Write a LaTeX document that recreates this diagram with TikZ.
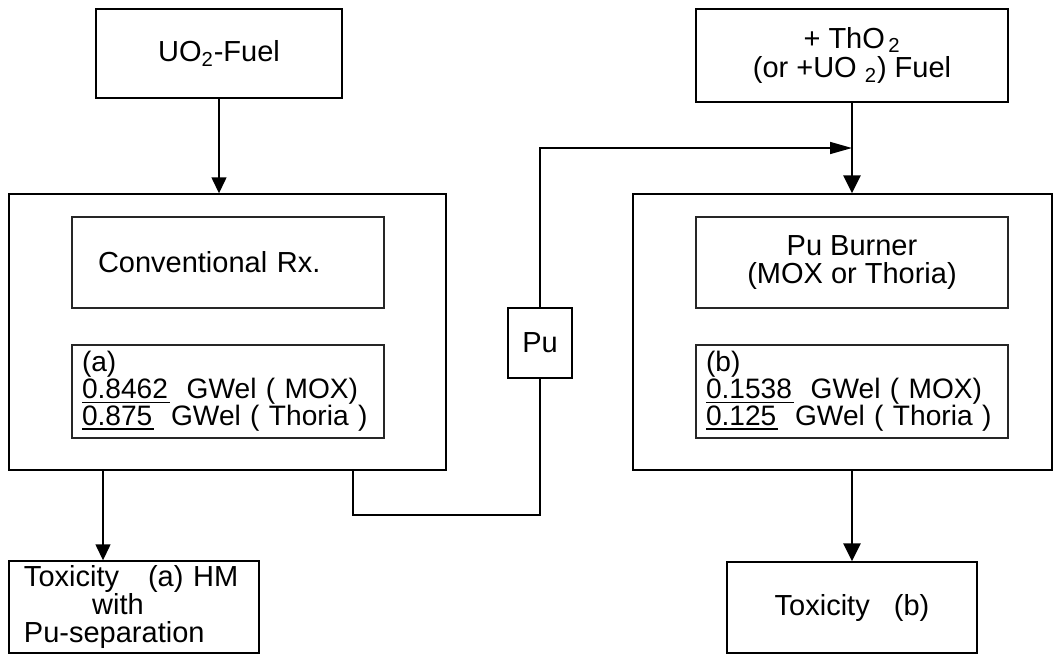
\documentclass[tikz,border=0pt]{standalone}
\usepackage{fontspec}
\setmainfont{Liberation Sans}
\usetikzlibrary{arrows.meta}
\newcommand\ulnum[1]{\leavevmode\setbox0\hbox{#1}\rlap{\rule[-2.4pt]{\dimexpr\wd0+1pt\relax}{0.8pt}}\box0}
\tikzset{
  box/.style={draw, line width=0.8pt, inner sep=0pt, align=center, font=\fontsize{16.5}{16}\selectfont},
  inbox/.style={box, draw=black!85, line width=0.6pt},
  gwbox/.style={inbox, text width=5.84cm, align=left, font=\fontsize{16}{15.3}\selectfont},
  flow/.style={line width=0.8pt, -{Triangle[length=3.2mm,width=3mm]}},
  bigflow/.style={line width=1.5pt, -{Triangle[length=3.6mm,width=3.4mm]}},
}
\begin{document}
\begin{tikzpicture}
\useasboundingbox (0,0) rectangle (21.24,-13.10);
\node[box, minimum width=4.92cm, minimum height=1.78cm] (fuelA) at (4.38,-1.07) {UO\textsubscript{2}-Fuel};
\node[box, minimum width=8.74cm, minimum height=5.52cm] (reacA) at (4.55,-6.64) {};
\node[inbox, minimum width=6.24cm, minimum height=1.82cm, text width=5.2cm, align=left] (conv) at (4.56,-5.25) {Conventional Rx.};
\node[gwbox, minimum width=6.24cm, minimum height=1.86cm] (powA) at (4.56,-7.83) {(a)\\\ulnum{0.8462}\ \ GWel ( MOX)\\\ulnum{0.875}\ \ GWel ( Thoria )};
\node[box, minimum width=5.00cm, minimum height=1.84cm, text width=4.4cm, align=left] (toxA) at (2.68,-12.14) {Toxicity\ \ \ (a) HM\\\hspace*{2.35em}with\\Pu-separation};
\node[box, minimum width=1.28cm, minimum height=1.40cm] (pu) at (10.80,-6.86) {Pu};
\node[box, minimum width=6.24cm, minimum height=1.86cm, font=\fontsize{16.5}{17}\selectfont] (fuelB) at (17.04,-1.11) {+ ThO\textsubscript{\,2}\\(or +UO \textsubscript{2}) Fuel};
\node[box, minimum width=8.38cm, minimum height=5.52cm] (reacB) at (16.85,-6.64) {};
\node[inbox, minimum width=6.24cm, minimum height=1.82cm] (burner) at (17.04,-5.25) {Pu Burner\\(MOX or Thoria)};
\node[gwbox, minimum width=6.24cm, minimum height=1.86cm] (powB) at (17.04,-7.83) {(b)\\\ulnum{0.1538}\ \ GWel ( MOX)\\\ulnum{0.125}\ \ GWel ( Thoria )};
\node[box, minimum width=5.00cm, minimum height=1.82cm] (toxB) at (17.04,-12.15) {Toxicity\ \ \ (b)};
\coordinate (outA) at (2.06,-9.40);
\coordinate (tapA) at (7.06,-9.40);
\coordinate (join) at (17.04,-2.96);
\draw[flow] (fuelA.south) -- (fuelA.south |- reacA.north);
\draw[flow] (outA) -- (outA |- toxA.north);
\draw[line width=0.8pt] (tapA) -- ++(0,-0.9) -| (pu.south);
\draw[line width=0.9pt, -{Triangle[length=4.4mm,width=2.4mm]}] (pu.north) |- (join);
\draw[bigflow] (fuelB.south) -- (fuelB.south |- reacB.north);
\draw[bigflow] (toxB.north |- reacB.south) -- (toxB.north);
\end{tikzpicture}
\end{document}
